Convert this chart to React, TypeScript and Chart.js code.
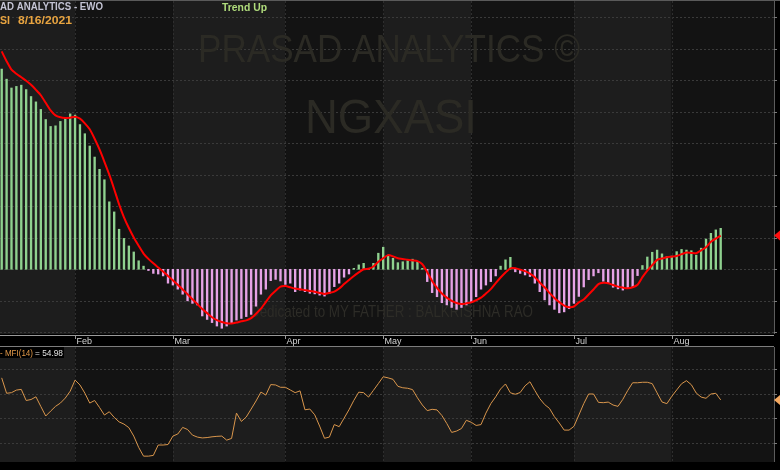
import React, { useEffect, useRef } from 'react';
import { Chart, registerables } from 'chart.js';
Chart.register(...registerables);

// ---------- data ----------
const ewo = [
  635, 603, 575, 580, 584, 570, 548, 531, 507, 475,
  453, 455, 469, 480, 493, 489, 459, 430, 391, 356,
  317, 284, 214, 182, 127, 98, 74, 55, 27, 10,
  -4, -13, -15, -21, -44, -50, -63, -79, -100, -108,
  -113, -148, -159, -169, -180, -187, -180, -171, -161, -156,
  -150, -143, -117, -79, -63, -36, -32, -37, -48,
  -44, -71, -66, -71, -76, -78, -82, -85, -76, -55,
  -44, -25, -15, 3, 14, 19, 2, 19, 51, 70,
  45, 35, 21, 24, 27, 32, 24, 3, -39, -74,
  -87, -106, -113, -121, -127, -121, -113, -106, -87, -63,
  -50, -39, -21, 10, 30, 38, -8, -13, -18, -23,
  -44, -71, -97, -113, -127, -138, -135, -125, -108, -86,
  -56, -33, -21, -11, -38, -45, -57, -62, -66, -60,
  -56, -20, 12, 39,
  54, 61, 49, 40, 42, 56, 63, 61, 59, 45, 67, 96, 114, 125, 130,
];

const signal = [
  691, 660, 633, 620, 609, 598, 585, 569, 552, 528,
  504, 488, 482, 480, 481, 484, 478, 463, 444, 414,
  380, 341, 300, 254, 206, 165, 131, 101, 75, 50,
  33, 19, 6, -7, -21, -35, -49, -64, -79, -95,
  -110, -126, -139, -152, -161, -167, -171, -172, -169, -165,
  -162, -155, -141, -125, -104, -83, -68, -55, -53, -57,
  -61, -63, -66, -69, -71, -75, -78, -75, -71, -61,
  -47, -34, -21, -10, 0, 2, 9, 24, 35, 45,
  41, 35, 33, 30, 28, 26, 16, -9, -37, -59,
  -77, -90, -100, -107, -110, -108, -105, -98, -90, -77,
  -63, -44, -26, -10, 3, 3, -1, -6, -14, -25,
  -42, -57, -75, -91, -104, -115, -120, -118, -105, -96,
  -80, -64, -47, -43, -44, -50, -55, -58, -60, -57,
  -49, -25, -4, 13, 30, 34, 38, 40, 42, 48,
  53, 52, 51, 60, 70, 87, 97, 107,
];

const mfi = [
  73.0, 60.4, 60.9, 63.0, 63.6, 54.5, 55.3, 57.5, 49.6, 41.8,
  45.8, 49.7, 52.4, 56.5, 62.1, 71.2, 67.2, 60.5, 52.4, 54.5,
  48.8, 42.6, 45.3, 40.7, 37.0, 35.2, 32.3, 25.4, 16.2, 9.0,
  9.0, 9.6, 18.1, 18.1, 18.5, 25.4, 27.1, 32.5, 30.8, 26.2,
  24.6, 23.9, 24.2, 24.8, 25.2, 25.4, 22.1, 23.5, 44.2, 37.4,
  41.0, 47.5, 54.1, 61.4, 58.9, 67.5, 67.2, 65.3, 65.3, 63.1,
  60.9, 62.4, 46.9, 47.5, 42.8, 33.6, 23.6, 24.6, 34.8, 33.1,
  40.0, 46.9, 54.6, 61.3, 60.9, 57.3, 62.8, 68.3, 73.9, 73.0,
  71.8, 66.1, 64.9, 64.5, 63.4, 56.7, 50.8, 46.2, 47.3, 46.8,
  42.2, 35.7, 28.4, 29.5, 31.6, 38.3, 36.7, 34.1, 34.8, 44.2,
  51.9, 57.5, 63.9, 68.0, 60.8, 59.6, 61.0, 66.5, 69.8, 62.7,
  56.1, 51.2, 48.0, 41.3, 36.1, 30.3, 30.3, 33.4, 42.6, 51.9,
  59.8, 59.8, 53.0, 52.7, 53.2, 50.8, 49.7, 55.5, 62.7, 69.0,
  69.0, 69.4, 69.4, 68.3, 60.7, 53.3, 51.9, 57.9, 63.1, 68.2,
  70.7, 67.4, 60.6, 57.3, 56.3, 59.8, 60.4, 54.98,
];

const monthLabels = ['Feb', 'Mar', 'Apr', 'May', 'Jun', 'Jul', 'Aug'];
const monthStarts = [15, 35, 58, 78, 96, 117, 137];
const ewoTicks = [-200, -100, 0, 100, 200, 300, 400, 500, 600, 700, 800];
const mfiTicks = [20, 40, 60, 80];

const titleText = 'PRASAD ANALYTICS - EWO';
const symbolText = 'NGXASI';
const dateText = '8/16/2021';
const trendText = 'Trend Up';
const watermark1 = 'PRASAD ANALYTICS \u00A9';
const watermark2 = 'NGXASI';
const dedication = 'Dedicated to MY FATHER : BALKRISHNA RAO';
const mfiName = '- MFI(14)';
const mfiValueText = '= 54.98';
const mfiLast = 54.98;

// ---------- styles ----------
const LIGHT = '#1d1d1d';
const DARK = '#131313';
const GRID = '#3a3a3a';
const GREEN = '#8fd18f';
const PINK = '#e6a2e6';
const FONT = '"Liberation Sans", Arial, sans-serif';

const X_MIN = -0.348;
const X_MAX = 157.9;

function fitText(ctx: CanvasRenderingContext2D, text: string, hidden: string, x0: number, width: number, y: number, font: string, color: string) {
  ctx.save();
  ctx.font = font;
  const wh = hidden ? ctx.measureText(hidden).width : 0;
  const wt = ctx.measureText(text).width;
  const s = width / (wt - wh);
  ctx.translate(x0, y);
  ctx.scale(s, 1);
  ctx.fillStyle = color;
  ctx.textBaseline = 'alphabetic';
  ctx.textAlign = 'left';
  ctx.fillText(text, -wh, 0);
  ctx.restore();
}

function drawPanelBackground(chart: any, ticks: number[]) {
  const { ctx, chartArea: a } = chart;
  const xs = chart.scales.x;
  const ys = chart.scales.y;
  ctx.save();
  ctx.fillStyle = '#000';
  ctx.fillRect(0, 0, chart.width, chart.height);
  const edges = [a.left, ...monthStarts.map((i) => xs.getPixelForValue(i)), a.right];
  for (let k = 0; k < edges.length - 1; k++) {
    ctx.fillStyle = k % 2 === 0 ? LIGHT : DARK;
    ctx.fillRect(edges[k], a.top, edges[k + 1] - edges[k], a.bottom - a.top);
  }
  ctx.strokeStyle = GRID;
  ctx.lineWidth = 1;
  ctx.setLineDash([2, 2]);
  ticks.forEach((t) => {
    const y = Math.round(ys.getPixelForValue(t)) + 0.5;
    ctx.beginPath();
    ctx.moveTo(a.left, y);
    ctx.lineTo(a.right, y);
    ctx.stroke();
  });
  ctx.strokeStyle = '#2e2e2e';
  monthStarts.forEach((i) => {
    const x = Math.round(xs.getPixelForValue(i)) + 0.5;
    ctx.beginPath();
    ctx.moveTo(x, a.top);
    ctx.lineTo(x, a.bottom);
    ctx.stroke();
  });
  ctx.setLineDash([]);
  ctx.restore();
}

function drawRightEdge(chart: any, ticks: number[], markerValue: number, markerColor: string) {
  const { ctx, chartArea: a } = chart;
  const ys = chart.scales.y;
  ctx.save();
  ctx.strokeStyle = '#5c5c5c';
  ctx.lineWidth = 1;
  ctx.beginPath();
  ctx.moveTo(a.right + 0.5, a.top);
  ctx.lineTo(a.right + 0.5, a.bottom);
  ctx.stroke();
  ctx.strokeStyle = '#7a7a7a';
  ticks.forEach((t) => {
    const y = Math.round(ys.getPixelForValue(t)) + 0.5;
    ctx.beginPath();
    ctx.moveTo(a.right, y);
    ctx.lineTo(a.right + 3, y);
    ctx.stroke();
  });
  const my = ys.getPixelForValue(markerValue);
  ctx.fillStyle = markerColor;
  ctx.beginPath();
  ctx.moveTo(chart.width - 6, my);
  ctx.lineTo(chart.width, my - 5);
  ctx.lineTo(chart.width + 6, my);
  ctx.lineTo(chart.width, my + 5);
  ctx.closePath();
  ctx.fill();
  ctx.restore();
}

const topPlugin = {
  id: 'topPanel',
  beforeDatasetsDraw(chart: any) {
    drawPanelBackground(chart, ewoTicks);
    const { ctx } = chart;
    fitText(ctx, watermark1, '', 198, 382, 62, `39px ${FONT}`, '#2b2a24');
    fitText(ctx, watermark2, '', 305, 172, 133, `49px ${FONT}`, '#2b2a24');
    fitText(ctx, dedication, '', 250, 283, 317, `17px ${FONT}`, '#2d2c27');
  },
  afterDatasetsDraw(chart: any) {
    const { ctx, chartArea: a } = chart;
    const xs = chart.scales.x;
    ctx.save();
    ctx.strokeStyle = '#5a5a5a';
    ctx.lineWidth = 1;
    ctx.beginPath();
    ctx.moveTo(0, 0.5);
    ctx.lineTo(chart.width, 0.5);
    ctx.stroke();
    ctx.fillStyle = '#000';
    ctx.fillRect(0, a.bottom, chart.width, chart.height - a.bottom);
    ctx.strokeStyle = '#9a9a9a';
    ctx.beginPath();
    ctx.moveTo(0, a.bottom + 1.5);
    ctx.lineTo(a.right, a.bottom + 1.5);
    ctx.stroke();
    ctx.font = `9px ${FONT}`;
    ctx.fillStyle = '#d4d4d4';
    ctx.textBaseline = 'alphabetic';
    monthStarts.forEach((i, k) => {
      const x = Math.round(xs.getPixelForValue(i)) + 0.5;
      ctx.beginPath();
      ctx.moveTo(x, a.bottom + 1);
      ctx.lineTo(x, a.bottom + 5);
      ctx.stroke();
      ctx.fillText(monthLabels[k], x + 1, a.bottom + 9.5);
    });
    ctx.restore();
    drawRightEdge(chart, ewoTicks, signal[signal.length - 1], '#ff1010');
    fitText(ctx, titleText, 'PRAS', 0, 103, 10, `bold 10px ${FONT}`, '#c4c4d4');
    fitText(ctx, symbolText, 'NGXA', 0, 10, 24, `bold 11px ${FONT}`, '#e8a440');
    fitText(ctx, dateText, '', 18, 54, 24, `bold 11px ${FONT}`, '#e8a440');
    fitText(ctx, trendText, '', 222, 45, 10.5, `bold 11px ${FONT}`, '#b0dc7c');
  },
};

const bottomPlugin = {
  id: 'bottomPanel',
  beforeDatasetsDraw(chart: any) {
    drawPanelBackground(chart, mfiTicks);
  },
  afterDatasetsDraw(chart: any) {
    const { ctx, chartArea: a } = chart;
    ctx.save();
    ctx.fillStyle = '#000';
    ctx.fillRect(0, a.bottom, chart.width, chart.height - a.bottom);
    ctx.strokeStyle = '#7c7c7c';
    ctx.lineWidth = 1;
    ctx.beginPath();
    ctx.moveTo(0, 0.5);
    ctx.lineTo(a.right, 0.5);
    ctx.stroke();
    ctx.fillStyle = '#000';
    ctx.fillRect(0, 1, 64, 11);
    ctx.restore();
    drawRightEdge(chart, mfiTicks, mfiLast, '#f4a860');
    fitText(ctx, mfiName, '', 0, 33, 10, `9px ${FONT}`, '#e09848');
    fitText(ctx, mfiValueText, '', 35, 28, 10, `9px ${FONT}`, '#e0e0e0');
  },
};

export default function App() {
  const topRef = useRef<HTMLCanvasElement>(null);
  const botRef = useRef<HTMLCanvasElement>(null);

  useEffect(() => {
    document.body.style.margin = '0';
    document.body.style.background = '#000';
    const topChart = new Chart(topRef.current as HTMLCanvasElement, {
      type: 'bar',
      data: {
        datasets: [
          {
            type: 'line',
            data: signal.map((v, i) => ({ x: i, y: v })),
            borderColor: '#ff0000',
            borderWidth: 2,
            pointRadius: 0,
            tension: 0.2,
            order: 0,
          } as any,
          {
            type: 'bar',
            data: ewo.map((v, i) => ({ x: i, y: v })),
            backgroundColor: ewo.map((v) => (v >= 0 ? GREEN : PINK)),
            barThickness: 1.7,
            order: 1,
          } as any,
        ],
      },
      plugins: [topPlugin],
      options: {
        animation: false,
        responsive: false,
        devicePixelRatio: 1,
        layout: { padding: { left: 0, right: 6, top: 1, bottom: 12 } },
        scales: {
          x: { type: 'linear', min: X_MIN, max: X_MAX, offset: false, display: false, grid: { offset: false } },
          y: { min: -205.2, max: 850.9, display: false },
        },
        plugins: { legend: { display: false }, tooltip: { enabled: false } },
      },
    });
    const botChart = new Chart(botRef.current as HTMLCanvasElement, {
      type: 'line',
      data: {
        datasets: [
          {
            data: mfi.map((v, i) => ({ x: i, y: v })),
            borderColor: '#d9964c',
            borderWidth: 1,
            pointRadius: 0,
            tension: 0,
          },
        ],
      },
      plugins: [bottomPlugin],
      options: {
        animation: false,
        responsive: false,
        devicePixelRatio: 1,
        layout: { padding: { left: 0, right: 6, top: 1, bottom: 8 } },
        scales: {
          x: { type: 'linear', min: X_MIN, max: X_MAX, display: false },
          y: { min: 4.22, max: 98.23, display: false },
        },
        plugins: { legend: { display: false }, tooltip: { enabled: false } },
      },
    });
    return () => {
      topChart.destroy();
      botChart.destroy();
    };
  }, []);

  return (
    <div style={{ position: 'relative', width: 780, height: 470, background: '#000', overflow: 'hidden' }}>
      <canvas ref={topRef} width={780} height={346} style={{ position: 'absolute', left: 0, top: 0 }} />
      <canvas ref={botRef} width={780} height={124} style={{ position: 'absolute', left: 0, top: 346 }} />
    </div>
  );
}
